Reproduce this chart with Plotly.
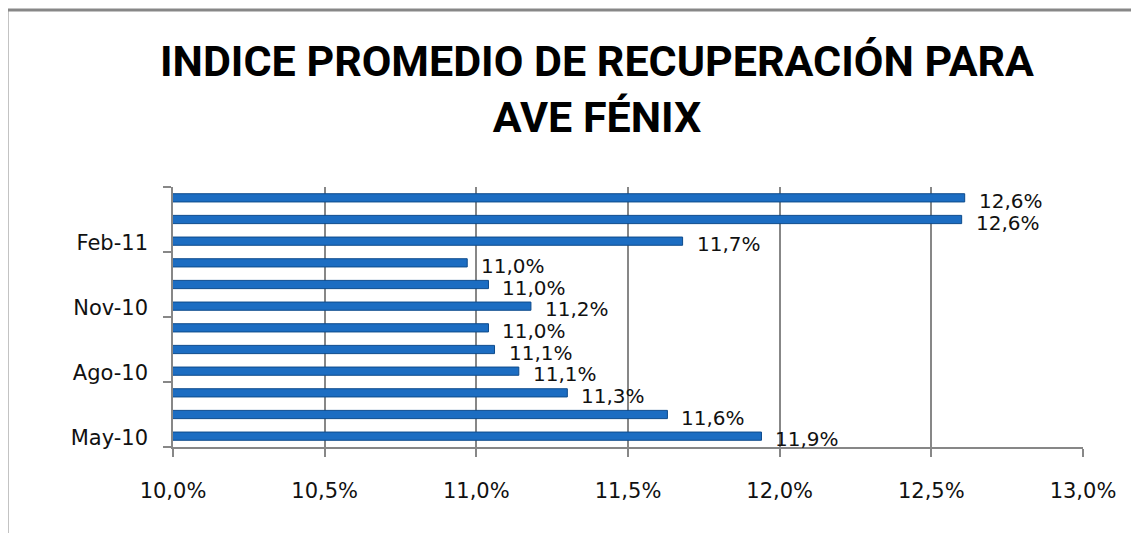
import plotly.graph_objects as go

months = ["May-10", "Jun-10", "Jul-10", "Ago-10", "Sep-10", "Oct-10",
          "Nov-10", "Dic-10", "Ene-11", "Feb-11", "Mar-11", "Abr-11"]
values = [11.94, 11.63, 11.30, 11.14, 11.06, 11.04,
          11.18, 11.04, 10.97, 11.68, 12.60, 12.61]
label_months = ["May-10", "Ago-10", "Nov-10", "Feb-11"]
x_ticks = [10.0, 10.5, 11.0, 11.5, 12.0, 12.5, 13.0]
title_text = "INDICE PROMEDIO DE RECUPERACIÓN PARA<br>AVE FÉNIX"

OFF = 8  # default page body margin
W, H = 1139 - OFF, 533 - OFF
L, T = 173 - OFF, 187 - OFF
R = W - (1083 - OFF)
B = H - (447 - OFF)
pw, ph = W - L - R, H - T - B

GRAY = "#878787"
FONT = "DejaVu Sans"


def pct(v):
    return f"{v:.1f}%".replace(".", ",")


fig = go.Figure()
fig.add_trace(go.Bar(
    x=values, y=months, orientation="h", width=0.38,
    marker=dict(color="#1c6dc2", line=dict(color="#0d4b8c", width=1)),
    hoverinfo="x+y", showlegend=False,
))
# invisible trace to carry the category-boundary tick axis
fig.add_trace(go.Scatter(
    x=values, y=list(range(len(months))), yaxis="y2",
    mode="markers", marker=dict(opacity=0), hoverinfo="skip", showlegend=False,
))

annotations = []
for m, v in zip(months, values):
    annotations.append(dict(
        x=v, y=m, xref="x", yref="y", text=pct(v),
        showarrow=False, xanchor="left", yanchor="middle", xshift=12, yshift=-3,
        font=dict(family=FONT, size=20, color="#111111"),
    ))

fig.update_layout(
    width=W, height=H,
    margin=dict(l=L, r=R, t=T, b=B, autoexpand=False),
    paper_bgcolor="white", plot_bgcolor="white",
    title=dict(
        text=title_text, x=(597 - OFF) / W, xanchor="center", xref="container",
        y=1 - 68 / H, yanchor="top", yref="container",
        font=dict(family="Roboto, sans-serif", size=43, color="black", weight="bold"),
    ),
    xaxis=dict(
        range=[10, 13], tickvals=x_ticks, ticktext=[pct(t) for t in x_ticks],
        showgrid=True, gridcolor=GRAY, gridwidth=2,
        showline=True, linecolor=GRAY, linewidth=2,
        ticks="outside", ticklen=8, tickwidth=2, tickcolor=GRAY,
        ticklabelstandoff=16,
        tickfont=dict(family=FONT, size=21, color="#111111"),
        zeroline=False, fixedrange=True,
    ),
    yaxis=dict(
        type="category", categoryorder="array", categoryarray=months,
        range=[-0.5, len(months) - 0.5],
        tickvals=label_months, ticks="", showline=False, showgrid=False,
        ticklabelstandoff=24, ticklabelshift=1,
        tickfont=dict(family=FONT, size=21, color="#111111"),
        fixedrange=True,
    ),
    yaxis2=dict(
        overlaying="y", anchor="x", side="left",
        range=[-0.5, len(months) - 0.5],
        tickvals=[-0.5, 2.5, 5.5, 8.5, 11.5], showticklabels=False,
        ticks="outside", ticklen=8, tickwidth=2, tickcolor=GRAY,
        showline=True, linecolor=GRAY, linewidth=2, showgrid=False, zeroline=False,
        fixedrange=True,
    ),
    annotations=annotations,
    shapes=[dict(
        type="rect", xref="paper", yref="paper",
        x0=(7 - OFF - L) / pw, x1=(W + 20 - L) / pw,
        y0=(T + ph - (H + 20)) / ph, y1=(T + ph - (10 - OFF)) / ph,
        line=dict(color=GRAY, width=3), fillcolor="rgba(0,0,0,0)", layer="below",
    )],
)

fig.write_html("out.html")
